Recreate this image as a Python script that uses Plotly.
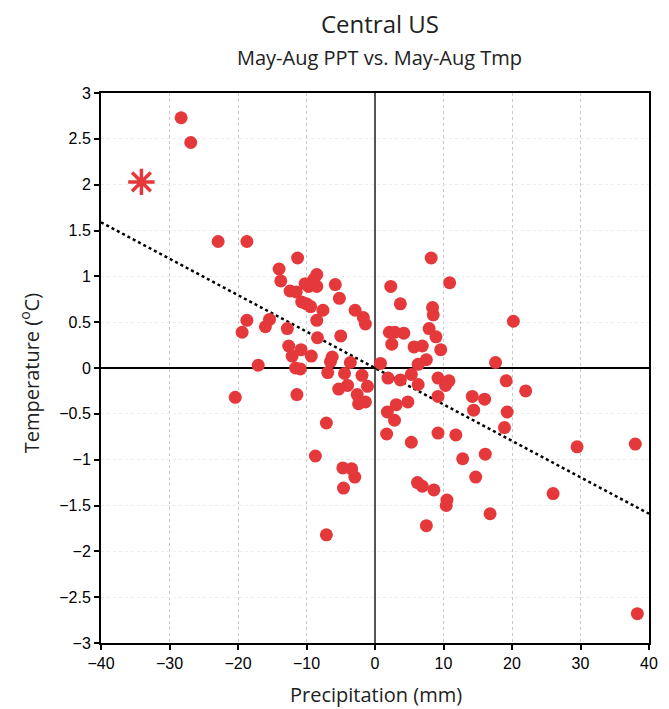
"""Central US scatter: May-Aug precipitation vs. May-Aug temperature anomalies."""

import plotly.graph_objects as go

# precipitation anomaly (mm) for each year
precip = [
    -22.9, -18.7, -11.3, -14.0, -13.75, -8.5, -8.9, -10.2, -9.7, -8.5,
    -5.8, -5.2, -12.4, -11.5, -10.7, -10.0, -9.4, -7.6, -2.9, -1.7,
    -1.4, -8.5, -18.7, -19.4, -15.4, -16.0, -12.8, -8.4, -5.0, -12.6,
    -10.8, -12.1, -9.3, -6.25, -6.5, -3.6, -17.05, -11.6, -10.9, -6.9,
    -4.45, -1.9, 0.8,
    -5.3, -4.0, -1.1, -2.6, -2.4, -1.4, -20.4, -11.4, -7.1, -8.7,
    -4.7, -3.4, -2.95, -4.6, -7.1,
    8.2, 10.9, 2.3, 3.7, 8.4, 8.5, 20.2, 2.1, 2.9, 4.2,
    7.9, 8.9, 2.45, 5.7, 6.9, 9.6, 7.5, 6.3, 17.6,
    5.3, 1.9, 3.7, 6.3, 9.2, 10.8, 10.3, 19.15, 22.0, 9.2,
    14.2, 16.0, 3.1, 4.8, 1.8, 14.4, 19.3, 2.85, 18.9, 1.7,
    5.3, 9.2, 11.8, 16.1, 12.8, 14.7, 6.2, 6.9, 8.6, 10.5,
    10.4, 16.8, 7.5,
    29.5, 38.0, 26.0, 38.3, -28.3, -26.9,
]

# temperature anomaly (degC) for each year
temp = [
    1.38, 1.38, 1.20, 1.08, 0.95, 1.02, 0.97, 0.92, 0.89, 0.89,
    0.91, 0.76, 0.84, 0.83, 0.72, 0.70, 0.67, 0.63, 0.63, 0.55,
    0.48, 0.52, 0.52, 0.39, 0.53, 0.45, 0.43, 0.33, 0.35, 0.24,
    0.20, 0.13, 0.13, 0.12, 0.07, 0.06, 0.03, 0.00, -0.01, -0.05,
    -0.06, -0.08, 0.05,
    -0.23, -0.19, -0.20, -0.29, -0.39, -0.37, -0.32, -0.29, -0.60, -0.96,
    -1.09, -1.10, -1.19, -1.31, -1.82,
    1.20, 0.93, 0.89, 0.70, 0.66, 0.58, 0.51, 0.39, 0.39, 0.38,
    0.43, 0.34, 0.26, 0.23, 0.24, 0.20, 0.09, 0.04, 0.06,
    -0.07, -0.11, -0.13, -0.18, -0.11, -0.14, -0.19, -0.14, -0.25, -0.31,
    -0.31, -0.34, -0.40, -0.37, -0.48, -0.46, -0.48, -0.57, -0.65, -0.72,
    -0.81, -0.71, -0.73, -0.94, -0.99, -1.19, -1.25, -1.29, -1.33, -1.44,
    -1.50, -1.59, -1.72,
    -0.86, -0.83, -1.37, -2.68, 2.73, 2.46,
]

# highlighted year (asterisk)
star_precip = [-34.1]
star_temp = [2.03]

# regression line end points
trend_x = [-40, 40]
trend_y = [1.59, -1.59]

x_ticks = [-40, -30, -20, -10, 0, 10, 20, 30, 40]
y_ticks = [-3, -2.5, -2, -1.5, -1, -0.5, 0, 0.5, 1, 1.5, 2, 2.5, 3]

RED = "#e5383b"

fig = go.Figure()

fig.add_trace(
    go.Scatter(
        x=trend_x,
        y=trend_y,
        mode="lines",
        line=dict(color="black", width=2.5, dash="dot"),
        hoverinfo="skip",
    )
)

fig.add_trace(
    go.Scatter(
        x=precip,
        y=temp,
        mode="markers",
        marker=dict(size=13, color=RED, line=dict(width=0)),
    )
)

fig.add_trace(
    go.Scatter(
        x=star_precip,
        y=star_temp,
        mode="markers",
        marker=dict(
            symbol="asterisk-open",
            size=22,
            color=RED,
            line=dict(color=RED, width=3.5),
        ),
    )
)

tick_font = dict(family="Liberation Sans", size=16, color="black")

fig.update_xaxes(
    range=[-40, 40],
    tickvals=x_ticks,
    ticks="outside",
    ticklen=5,
    tickwidth=1.5,
    tickcolor="black",
    tickfont=tick_font,
    showline=True,
    linecolor="black",
    linewidth=2,
    mirror=True,
    showgrid=True,
    gridcolor="#c8c8c8",
    griddash="dot",
    gridwidth=1,
    zeroline=True,
    zerolinecolor="#555555",
    zerolinewidth=1.5,
)

fig.update_yaxes(
    range=[-3, 3],
    tickvals=y_ticks,
    ticks="outside",
    ticklen=5,
    tickwidth=1.5,
    tickcolor="black",
    tickfont=tick_font,
    showline=True,
    linecolor="black",
    linewidth=2,
    mirror=True,
    showgrid=True,
    gridcolor="#ececec",
    griddash="dot",
    gridwidth=1,
    zeroline=True,
    zerolinecolor="black",
    zerolinewidth=1.5,
)

title_font = "Open Sans"

fig.add_annotation(
    text="Central US",
    xref="paper", yref="paper",
    x=0.509, y=1.127,
    xanchor="center", yanchor="middle",
    showarrow=False,
    font=dict(family=title_font, size=24, color="#222222"),
)
fig.add_annotation(
    text="May-Aug PPT vs. May-Aug Tmp",
    xref="paper", yref="paper",
    x=0.509, y=1.064,
    xanchor="center", yanchor="middle",
    showarrow=False,
    font=dict(family=title_font, size=20, color="#222222"),
)
fig.add_annotation(
    text="Precipitation (mm)",
    xref="paper", yref="paper",
    x=0.502, y=-0.094,
    xanchor="center", yanchor="middle",
    showarrow=False,
    font=dict(family=title_font, size=20, color="#222222"),
)
fig.add_annotation(
    text="Temperature (<sup>o</sup>C)",
    xref="paper", yref="paper",
    x=-0.13, y=0.49,
    xanchor="center", yanchor="middle",
    textangle=-90,
    showarrow=False,
    font=dict(family=title_font, size=20, color="#222222"),
)

# the page adds an 8px body margin, so the figure is shrunk to fit the window
fig.update_layout(
    width=661,
    height=701,
    showlegend=False,
    plot_bgcolor="white",
    paper_bgcolor="white",
    margin=dict(l=93, r=20, t=85, b=66),
)

fig.write_html("out.html")
